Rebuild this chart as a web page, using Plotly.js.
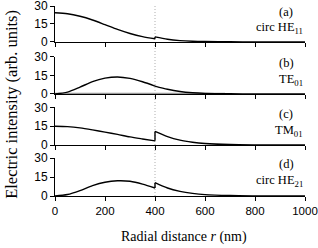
<!DOCTYPE html>
<html>
<head>
<meta charset="utf-8">
<script src="https://cdn.plot.ly/plotly-3.0.1.min.js"></script>
<style>html,body{margin:0;padding:0;background:#fff;}#chart{width:318px;height:248px;}</style>
</head>
<body>
<div id="chart"></div>
<script>
// Radial positions (nm): inside core and outside core
const rIn  = [0, 50, 100, 150, 200, 250, 300, 350, 400];
const rOut = [400, 450, 500, 550, 600, 700, 800, 900, 1000];

// (a) circ HE11
const heA_in  = [24.3, 23.5, 21.4, 18.3, 14.4, 10.4, 7.0, 4.4, 2.6];
const heA_out = [4.2, 2.2, 1.1, 0.55, 0.28, 0.08, 0.03, 0.01, 0.0];
// (b) TE01
const te_in  = [0, 1.5, 5.5, 10.0, 12.8, 13.8, 12.6, 9.9, 6.4];
const te_out = [6.4, 3.8, 2.0, 1.0, 0.5, 0.15, 0.05, 0.01, 0.0];
// (b) grey zero component
const teZeroX = [0, 680];
const teZeroY = [0, 0];
// (c) TM01
const tm_in  = [15.0, 14.7, 13.7, 12.1, 10.3, 8.5, 6.5, 4.9, 3.4];
const tm_out = [10.9, 6.7, 3.9, 2.3, 1.3, 0.45, 0.15, 0.05, 0.02];
// (d) circ HE21
const heD_in  = [0, 1.2, 4.3, 8.2, 10.9, 12.0, 11.6, 9.4, 6.3];
const heD_out = [10.5, 6.3, 3.7, 2.1, 1.1, 0.35, 0.12, 0.04, 0.01];

const panelLetters = ['(a)', '(b)', '(c)', '(d)'];
const panelNames = ['circ HE<sub>11</sub>', 'TE<sub>01</sub>', 'TM<sub>01</sub>', 'circ HE<sub>21</sub>'];
const xTicks = [0, 200, 400, 600, 800, 1000];
const yTicks = [0, 15, 30];
const coreRadius = 400;

const panels = [
  {inside: heA_in, outside: heA_out},
  {inside: te_in, outside: te_out},
  {inside: tm_in, outside: tm_out},
  {inside: heD_in, outside: heD_out}
];

const lineStyle = {color: '#000', width: 1.4};
const traces = [];
// grey zero line in (b)
traces.push({x: teZeroX, y: teZeroY, xaxis: 'x2', yaxis: 'y2', mode: 'lines',
  line: {color: '#999', width: 2.6}, hoverinfo: 'skip', showlegend: false});

panels.forEach((p, i) => {
  const xa = i === 0 ? 'x' : 'x' + (i + 1);
  const ya = i === 0 ? 'y' : 'y' + (i + 1);
  traces.push({x: rIn, y: p.inside, xaxis: xa, yaxis: ya, mode: 'lines',
    line: Object.assign({shape: 'spline', smoothing: 0.8}, lineStyle), showlegend: false});
  traces.push({x: rOut, y: p.outside, xaxis: xa, yaxis: ya, mode: 'lines',
    line: Object.assign({shape: 'spline', smoothing: 0.8}, lineStyle), showlegend: false});
  traces.push({x: [rIn[rIn.length - 1], rOut[0]], y: [p.inside[p.inside.length - 1], p.outside[0]],
    xaxis: xa, yaxis: ya, mode: 'lines', line: lineStyle, showlegend: false});
});

const domains = [[0.811, 1], [0.537, 0.732], [0.268, 0.466], [0, 0.2]];
const xTickFont = {family: 'Liberation Sans, Arial, sans-serif', size: 11.5, color: '#000'};
const yTickFont = {family: 'Liberation Sans, Arial, sans-serif', size: 12, color: '#000'};
const serif = 'Liberation Serif, Times New Roman, serif';

const layout = {
  width: 318, height: 248,
  margin: {l: 55, r: 13, t: 6, b: 52},
  paper_bgcolor: '#fff', plot_bgcolor: '#fff',
  showlegend: false,
  annotations: [],
  shapes: [{type: 'line', xref: 'x4', yref: 'paper', x0: coreRadius, x1: coreRadius, y0: 0, y1: 1,
    line: {color: '#999', width: 0.8, dash: '1px,2px'}, layer: 'below'}]
};

domains.forEach((d, i) => {
  const sx = i === 0 ? '' : String(i + 1);
  const ya = 'y' + sx;
  layout['xaxis' + sx] = {
    domain: [0, 1], anchor: ya, range: [0, 1000], tickvals: xTicks,
    ticktext: xTicks.map(String), showticklabels: i === 3, ticklabeloverflow: 'allow',
    ticks: 'outside', ticklen: 4, tickcolor: '#000', showline: true, linecolor: '#000',
    linewidth: 1, showgrid: false, zeroline: false, tickfont: xTickFont, fixedrange: true
  };
  layout['yaxis' + sx] = {
    domain: d, anchor: 'x' + sx, range: [0, 30], tickvals: yTicks, ticklabeloverflow: 'allow',
    ticks: 'outside', ticklen: 4, tickcolor: '#000', showline: true, linecolor: '#000',
    linewidth: 1, showgrid: false, zeroline: false, tickfont: yTickFont, fixedrange: true
  };
  layout.annotations.push({xref: 'x' + sx, yref: ya, x: 925, y: 25, text: panelLetters[i],
    showarrow: false, xanchor: 'center', yanchor: 'middle',
    font: {family: serif, size: 12.5, color: '#000'}});
  layout.annotations.push({xref: 'x' + sx, yref: ya, x: 1000, y: 11.5, text: panelNames[i],
    showarrow: false, xanchor: 'right', yanchor: 'middle',
    font: {family: serif, size: 12.5, color: '#000'}});
});

layout.annotations.push({xref: 'paper', yref: 'paper', x: -0.172, y: 0.48,
  text: 'Electric intensity (arb. units)', textangle: -90, showarrow: false,
  xanchor: 'center', yanchor: 'middle', font: {family: serif, size: 16.5, color: '#000'}});
layout.annotations.push({xref: 'paper', yref: 'paper', x: 0.514, y: -0.215,
  text: 'Radial distance <i>r</i> (nm)', showarrow: false,
  xanchor: 'center', yanchor: 'middle', font: {family: serif, size: 14, color: '#000'}});

Plotly.newPlot('chart', traces, layout, {displayModeBar: false, staticPlot: true});
</script>
</body>
</html>
